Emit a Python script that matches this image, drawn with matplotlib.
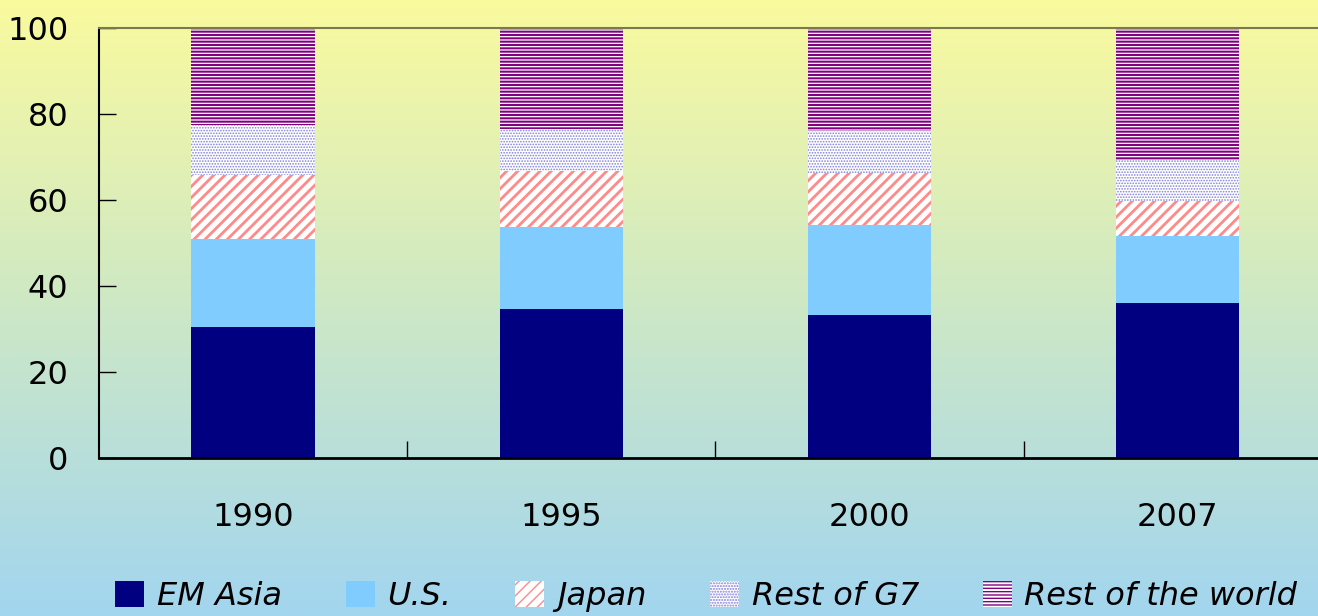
import numpy as np
import matplotlib.pyplot as plt
from matplotlib.colors import LinearSegmentedColormap
from matplotlib.patches import Patch

# -------------------------------------------------
# Data (share, %)
# -------------------------------------------------
years = ["1990", "1995", "2000", "2007"]
series_names = ["EM Asia", "U.S.", "Japan", "Rest of G7", "Rest of the world"]
em_asia = [30.5, 34.7, 33.3, 36.0]
us = [20.4, 19.0, 20.9, 15.6]
japan = [14.9, 13.0, 12.1, 8.2]
rest_g7 = [11.6, 9.8, 9.7, 9.5]
rest_world = [22.6, 23.5, 24.0, 30.7]

# -------------------------------------------------
# Styles
# -------------------------------------------------
styles = [
    dict(facecolor="#000080", edgecolor="#000080", hatch=None, hlw=1.0),
    dict(facecolor="#80CCFF", edgecolor="#80CCFF", hatch=None, hlw=1.0),
    dict(facecolor="white", edgecolor="#FF8A8A", hatch="///", hlw=2.0),
    dict(facecolor="white", edgecolor="#8080D8", hatch="......", hlw=0.8),
    dict(facecolor="white", edgecolor="#800080", hatch="-----", hlw=1.5),
]

fig = plt.figure(figsize=(13.18, 6.16), dpi=100)

# background gradient
bg = fig.add_axes([0, 0, 1, 1], zorder=-10)
cmap = LinearSegmentedColormap.from_list("bg", ["#A2D5EF", "#CDE8C6", "#FAFA9E"])
bg.imshow(np.linspace(0, 1, 256).reshape(-1, 1), aspect="auto", cmap=cmap,
          origin="lower", extent=[0, 1, 0, 1])
bg.axis("off")

ax = fig.add_axes([0.0751, 0.2565, 0.9355, 0.698])
ax.set_facecolor("none")

x = np.arange(len(years))
data = [em_asia, us, japan, rest_g7, rest_world]
bottom = np.zeros(len(years))
handles = []
for name, vals, st in zip(series_names, data, styles):
    with plt.rc_context({"hatch.linewidth": st["hlw"]}):
        bars = ax.bar(x, vals, width=0.4, bottom=bottom, facecolor=st["facecolor"],
                      edgecolor=st["edgecolor"], linewidth=0, hatch=st["hatch"])
        for b in bars:
            if hasattr(b, "set_hatch_linewidth"):
                b.set_hatch_linewidth(st["hlw"])
        h = Patch(facecolor=st["facecolor"], edgecolor=st["edgecolor"],
                  linewidth=0, hatch=st["hatch"], label=name)
        if hasattr(h, "set_hatch_linewidth"):
            h.set_hatch_linewidth(st["hlw"])
    handles.append(h)
    bottom += np.array(vals)

ax.set_xlim(-0.5, 3.5)
ax.set_ylim(0, 100)
ax.set_yticks([0, 20, 40, 60, 80, 100])
ax.tick_params(axis="y", direction="in", length=12, width=1, pad=22,
               labelsize=23, colors="black")
ax.set_xticks(x, years)
ax.tick_params(axis="x", which="major", length=0, pad=32, labelsize=23)
ax.set_xticks([0.5, 1.5, 2.5], minor=True)
ax.tick_params(axis="x", which="minor", direction="in", length=12, width=1)

ax.spines["right"].set_visible(False)
ax.spines["top"].set_color("#7A7A50")
ax.spines["top"].set_linewidth(1.5)
ax.spines["left"].set_linewidth(1.5)
ax.spines["bottom"].set_linewidth(2)

leg = fig.legend(handles=handles, loc="center", bbox_to_anchor=(0.536, 0.032),
                 ncol=5, frameon=False, handlelength=0.9, handleheight=0.9,
                 handletextpad=0.4, columnspacing=2.0,
                 prop={"size": 23, "style": "italic"})

fig.savefig("out.png", dpi=100)
